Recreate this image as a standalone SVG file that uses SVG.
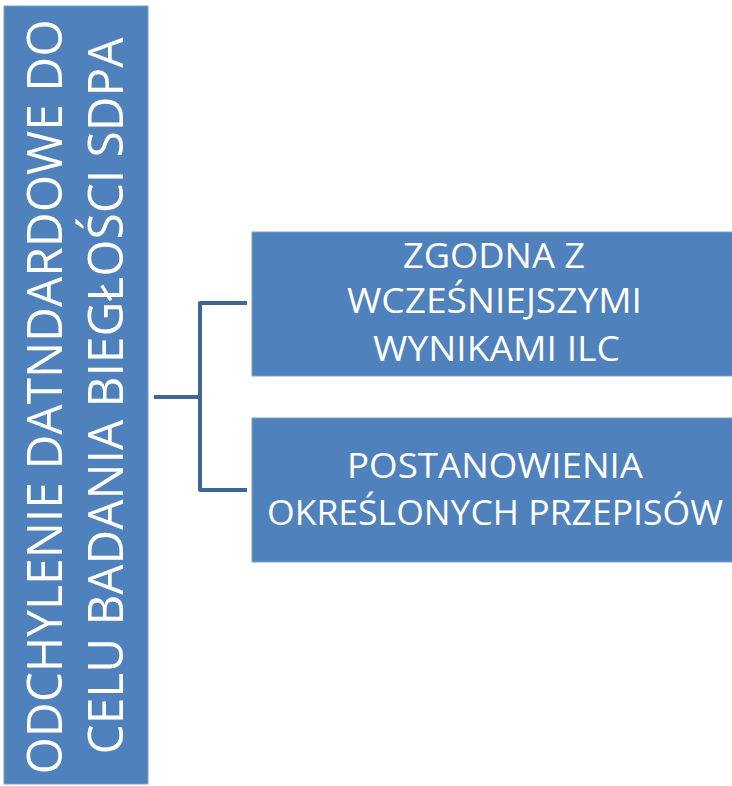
<svg xmlns="http://www.w3.org/2000/svg" width="732" height="786" viewBox="0 0 732 786">
<style>
.box{fill:#4F81BD;stroke:#7A9FCC;stroke-width:1}
.t{fill:#FFFFFF;font-family:"Open Sans","Noto Sans","Liberation Sans",sans-serif;text-anchor:middle}
.big{font-size:49px}
.small{font-size:35px}
.conn{fill:none;stroke:#3E6699;stroke-width:4;stroke-linejoin:round;stroke-linecap:butt}
</style>
<rect width="732" height="786" fill="#FFFFFF"/>
<g id="connectors">
<path class="conn" d="M154,397 H200"/>
<path class="conn" d="M247,303 H200 V490 H247"/>
</g>
<g id="root">
<rect class="box" x="4" y="6" width="144" height="778"/>
<g transform="translate(0,397) rotate(-90)">
<text class="t big" x="0" y="62" textLength="755" lengthAdjust="spacingAndGlyphs">ODCHYLENIE DATNDARDOWE DO</text>
<text class="t big" x="1" y="123" textLength="717" lengthAdjust="spacingAndGlyphs">CELU BADANIA BIEGŁOŚCI SDPA</text>
</g>
</g>
<g id="node1">
<rect class="box" x="252" y="232" width="482" height="144"/>
<text class="t small" x="494" y="268" textLength="182" lengthAdjust="spacingAndGlyphs">ZGODNA Z</text>
<text class="t small" x="494.5" y="313" textLength="295" lengthAdjust="spacingAndGlyphs">WCZEŚNIEJSZYMI</text>
<text class="t small" x="496.5" y="361" textLength="247" lengthAdjust="spacingAndGlyphs">WYNIKAMI ILC</text>
</g>
<g id="node2">
<rect class="box" x="252" y="418" width="482" height="144"/>
<text class="t small" x="495" y="478" textLength="296" lengthAdjust="spacingAndGlyphs">POSTANOWIENIA</text>
<text class="t small" x="495" y="525" textLength="456" lengthAdjust="spacingAndGlyphs">OKREŚLONYCH PRZEPISÓW</text>
</g>
</svg>
